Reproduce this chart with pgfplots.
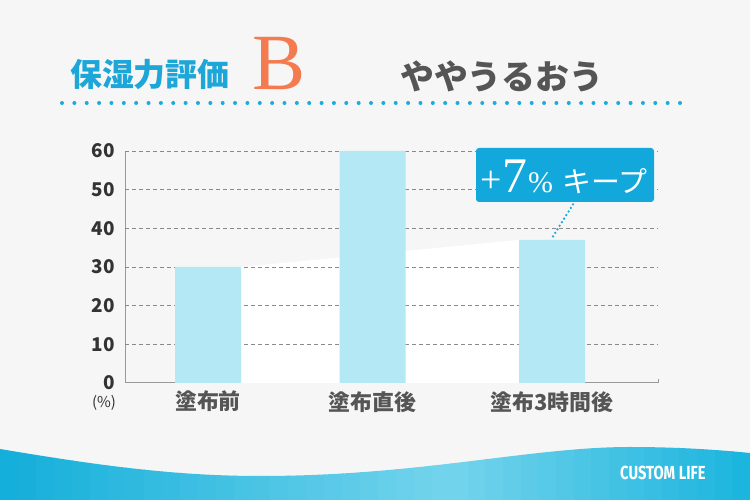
\documentclass[border=0pt]{standalone}
\usepackage{fontspec}
\usepackage{pgfplots}
\pgfplotsset{compat=1.18}
\setmainfont{Noto Sans CJK JP}
\newfontfamily\serifB{Liberation Serif}
\newfontfamily\logofont{Fira Sans}

\definecolor{bgc}{HTML}{F6F6F6}
\definecolor{titlec}{HTML}{1DA6D8}
\definecolor{orangeB}{HTML}{F47A50}
\definecolor{grayt}{HTML}{555555}
\definecolor{tickc}{HTML}{333333}
\definecolor{dotc}{HTML}{1AACE0}
\definecolor{boxc}{HTML}{12A8DC}
\definecolor{barc}{HTML}{B4E8F4}
\definecolor{gridc}{HTML}{8A8A8A}
\definecolor{axisc}{HTML}{999999}
\definecolor{waveL}{HTML}{14AFDA}
\definecolor{waveM}{HTML}{72D3EC}
\definecolor{waveR}{HTML}{17B3DC}

\begin{document}
\begin{tikzpicture}
\begin{scope}[x=1bp,y=1bp]
\useasboundingbox (0,0) rectangle (750,500);
\fill[bgc] (0,0) rectangle (750,500);

% wave at the bottom, gradient built from thin strips
\begin{scope}
\clip (0,51) .. controls (90,36) and (170,24) .. (260,24)
  .. controls (420,24) and (530,53) .. (630,53)
  .. controls (680,53) and (720,50) .. (750,47)
  -- (750,0) -- (0,0) -- cycle;
\foreach \i in {0,...,24} {
  \pgfmathsetmacro{\p}{100*\i/24}
  \fill[waveM!\p!waveL] (\i*18,0) rectangle (\i*18+18.5,60);
}
\foreach \i in {0,...,17} {
  \pgfmathsetmacro{\p}{100*\i/17}
  \fill[waveR!\p!waveM] (450+\i*17.65,0) rectangle (450+\i*17.65+18,60);
}
\end{scope}
\node[anchor=base west, inner sep=0pt, text=white] at (620,20)
  {\scalebox{0.78}[1]{\logofont\bfseries\fontsize{19}{19}\selectfont CUSTOM LIFE}};

% header
\node[anchor=west, inner sep=0pt, text=titlec] at (70,425)
  {\bfseries\fontsize{32}{32}\selectfont 保湿力評価};
\node[anchor=base west, inner sep=0pt, text=orangeB] at (252,410)
  {\serifB\fontsize{80}{80}\selectfont B};
\node[anchor=west, inner sep=0pt, text=grayt] at (400,424)
  {\bfseries\fontsize{34}{34}\selectfont ややうるおう};
\draw[dotc, line width=4bp, line cap=round, dash pattern=on 0bp off 12.36bp]
  (62,397) -- (681,397);
\end{scope}

\begin{axis}[
  at={(125bp,117bp)}, anchor=south west,
  scale only axis, width=533bp, height=232bp,
  xmin=125, xmax=658, ymin=0, ymax=60,
  axis x line*=bottom, axis y line*=left,
  axis line style={draw=axisc, line width=1bp, -},
  xtick={208,372.5,552},
  xticklabels={塗布前,塗布直後,塗布3時間後},
  ytick={0,10,...,60},
  major tick length=0pt,
  /pgf/number format/assume math mode=true,
  yticklabel style={font=\bfseries\fontsize{19}{19}\selectfont, text=tickc,
    anchor=east, inner sep=0pt, xshift=-10bp},
  xticklabel style={font=\bfseries\fontsize{22}{22}\selectfont, text=grayt,
    anchor=north, inner sep=0pt, yshift=-8bp},
  clip=false,
]
% white band behind the bars
\addplot[fill=white, draw=none]
  coordinates {(241,0) (241,30) (519,37) (519,0)};
% dashed grid lines
\pgfplotsinvokeforeach{10,20,...,60}{
  \draw[gridc, line width=0.8bp, dash pattern=on 4bp off 3bp]
    (axis cs:125,#1) -- (axis cs:658,#1);
}
\addplot[ybar, bar width=66bp, fill=barc, draw=none]
  coordinates {(208,30) (372.5,60) (552,37)};
\draw[axisc, line width=1bp] (axis cs:658,0) -- (axis cs:658,1.1);
\draw[dotc, line width=2.6bp, line cap=round, dash pattern=on 0bp off 4.2bp]
  (axis cs:553,37.9) -- (axis cs:574,46.6);
\end{axis}

\begin{scope}[x=1bp,y=1bp]
\node[text=tickc, inner sep=0pt] at (104,97) {\fontsize{15}{15}\selectfont (\%)};
% callout
\fill[boxc, rounded corners=3bp] (476,298) rectangle (654,352);
\node[anchor=base, inner sep=0pt, text=white] at (564,307)
  {{\serifB\fontsize{38}{38}\selectfont +}{\serifB\fontsize{50}{50}\selectfont 7}\hspace{1bp}{\serifB\fontsize{30}{30}\selectfont\%}\hspace{9bp}{\fontsize{29}{29}\selectfont キープ}};
\end{scope}
\end{tikzpicture}
\end{document}
